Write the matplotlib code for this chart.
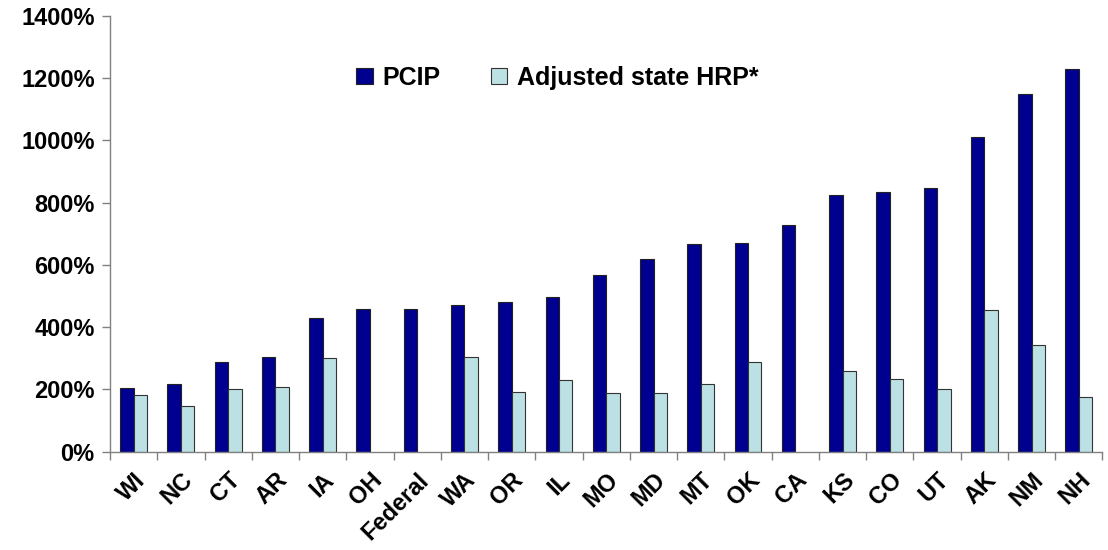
import numpy as np
import matplotlib
matplotlib.use("Agg")
import matplotlib.pyplot as plt
from matplotlib.ticker import FuncFormatter, FixedLocator

# values in percent
states = ["WI", "NC", "CT", "AR", "IA", "OH", "Federal", "WA", "OR", "IL", "MO",
          "MD", "MT", "OK", "CA", "KS", "CO", "UT", "AK", "NM", "NH"]
pcip = [205, 217, 287, 303, 430, 458, 458, 470, 482, 497, 569,
        620, 666, 672, 728, 824, 836, 846, 1011, 1149, 1229]
hrp = [183, 147, 200, 207, 300, np.nan, np.nan, 305, 191, 232, 189,
       189, 217, 287, np.nan, 259, 235, 203, 455, 343, 176]

plt.rcParams['font.family'] = ['Liberation Sans', 'DejaVu Sans']
plt.rcParams['font.weight'] = 'bold'

fig = plt.figure(figsize=(11.08, 5.5), dpi=100)
ax = fig.add_axes([0.0993, 0.1787, 0.8957, 0.7923])

x = np.arange(len(states))
w = 0.285
ax.bar(x - w / 2, pcip, w, color='#000090', edgecolor='#222222', linewidth=0.8, label='PCIP')
ax.bar(x + w / 2, hrp, w, color='#BCE1E4', edgecolor='#333333', linewidth=0.8,
       label='Adjusted state HRP*')

ax.set_ylim(0, 1400)
ax.set_xlim(-0.5, len(states) - 0.5)
ax.set_yticks(range(0, 1401, 200))
ax.yaxis.set_major_formatter(FuncFormatter(lambda v, p: f"{v:.0f}%"))

ax.set_xticks(x)
ax.set_xticklabels(states, rotation=45, ha='right', rotation_mode='anchor',
                   fontsize=17, fontweight='bold')
ax.xaxis.set_minor_locator(FixedLocator(np.arange(-0.5, len(states), 1.0)))
ax.tick_params(axis='x', which='major', length=0, pad=12)
ax.tick_params(axis='x', which='minor', length=6, color='#808080', width=1)
ax.tick_params(axis='y', length=6, color='#808080', width=1, labelsize=17, pad=5)
for lab in ax.get_yticklabels():
    lab.set_fontweight('bold')

for s in ['top', 'right']:
    ax.spines[s].set_visible(False)
for s in ['left', 'bottom']:
    ax.spines[s].set_color('#808080')
    ax.spines[s].set_linewidth(1)

ax.legend(loc='center', bbox_to_anchor=(0.451, 0.858), ncol=2, frameon=False,
          prop={'size': 18, 'weight': 'bold'}, handlelength=0.65, handleheight=0.65,
          handletextpad=0.4, columnspacing=2.0)

plt.savefig("out.png", dpi=100)
plt.close(fig)
